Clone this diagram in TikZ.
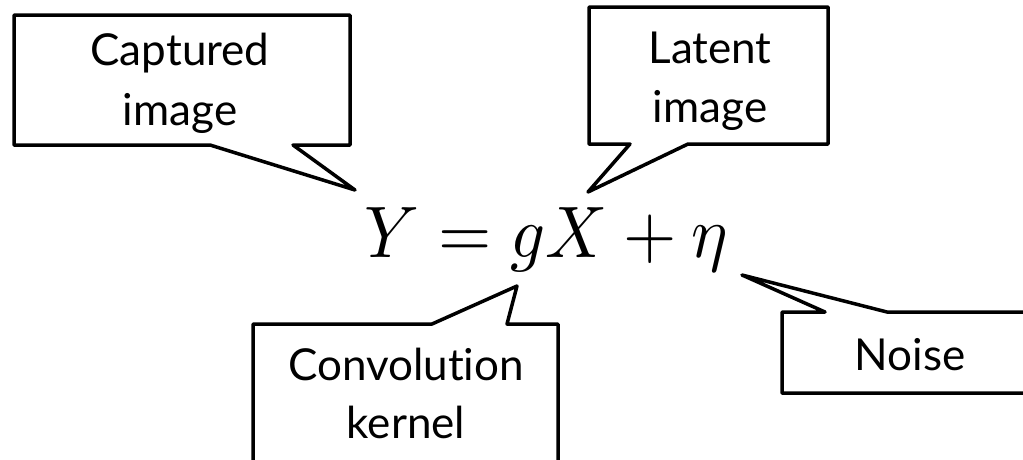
\documentclass[tikz,border=0pt]{standalone}
\usepackage{fontspec}
\setmainfont{Lato}[Ligatures={NoCommon,NoRare,NoDiscretionary}]
\begin{document}
\begin{tikzpicture}[x=1pt,y=-1pt,
  callout/.style={draw=black,line width=3.5pt,line join=round,fill=white},
  label/.style={inner sep=0pt,anchor=base,font=\fontsize{44}{60}\selectfont},
  eqn/.style={inner sep=0pt,anchor=base west}]
\useasboundingbox (0,0) rectangle (1023,459);
\clip (0,0) rectangle (1023,459);
% equation
\node[eqn] (eq) at (364,257) {\scalebox{6.85}[7.3]{$Y = gX + \eta$}};
% tips
\coordinate (tipC) at (355,190);
\coordinate (tipL) at (588,192);
\coordinate (tipK) at (517,286);
\coordinate (tipN) at (742,275);
% captured image
\draw[callout] (14,15) -- (350,15) -- (350,145) -- (293,145) -- (tipC) -- (210,145) -- (14,145) -- cycle;
\node[label] (cap1) at (180,65) {Captured};
\node[label] (cap2) at (180,125) {image};
% latent image
\draw[callout] (589,7) -- (828,7) -- (828,144) -- (688,144) -- (tipL) -- (630,144) -- (589,144) -- cycle;
\node[label] (lat1) at (710,63) {Latent};
\node[label] (lat2) at (710,122) {image};
% convolution kernel
\draw[callout] (253,324) -- (432,324) -- (tipK) -- (507,324) -- (558,324) -- (558,480) -- (253,480) -- cycle;
\node[label] (conv1) at (406,380) {Convolution};
\node[label] (conv2) at (406,438) {kernel};
% noise
\draw[callout] (782,312) -- (825,312) -- (tipN) -- (887,312) -- (1040,312) -- (1040,393) -- (782,393) -- cycle;
\node[label] (noise) at (910,370) {Noise};
\end{tikzpicture}
\end{document}
